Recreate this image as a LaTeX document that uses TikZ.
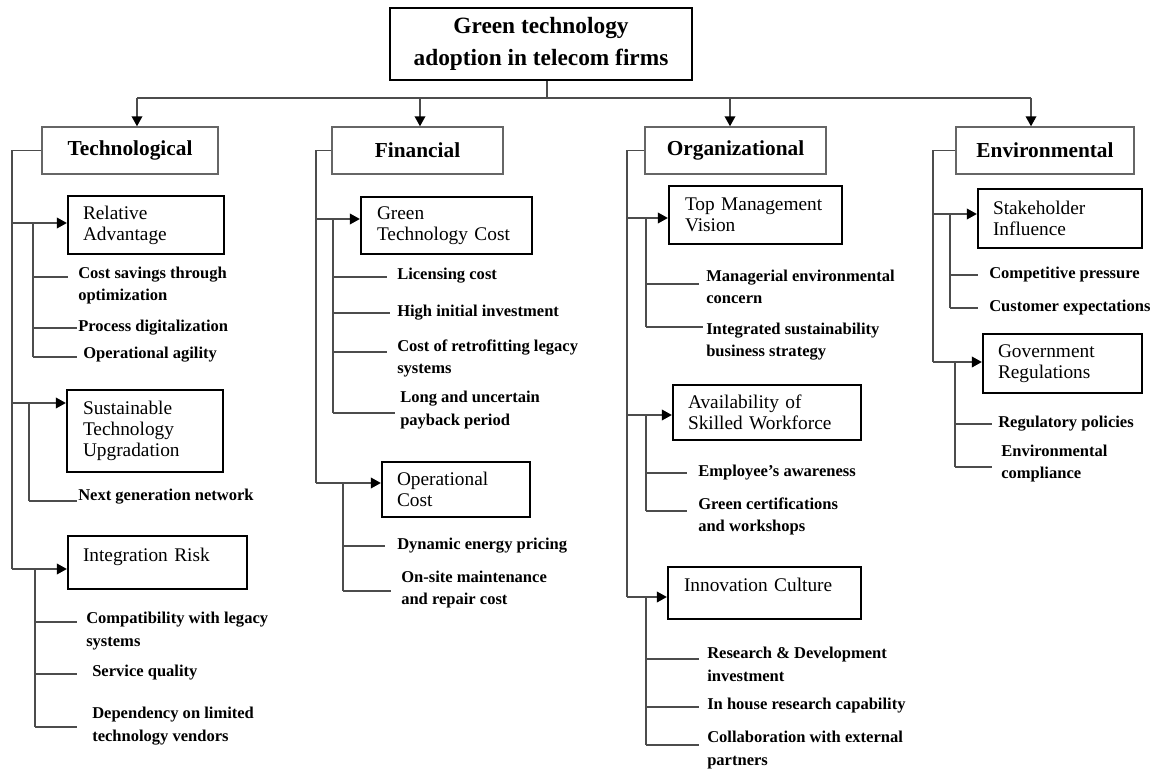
\documentclass[tikz,border=0pt]{standalone}
\usepackage{fontspec}
\setmainfont{Liberation Serif}
\usetikzlibrary{arrows.meta}
\tikzset{
  conn/.style={draw=black!70, line width=1.1pt},
  arr/.style={conn, -{Triangle[length=7.5pt,width=8pt,color=black]}},
  catbox/.style={draw=black!60, line width=1.1pt, font=\fontsize{16}{19}\selectfont\bfseries, inner sep=0pt},
  subbox/.style={draw=black, line width=1.7pt, font=\fontsize{14.5}{15.75}\selectfont, align=left, inner sep=0pt},
  itemtxt/.style={font=\fontsize{12.4}{17}\selectfont\bfseries, align=left, inner sep=0pt, anchor=west},
  titlebox/.style={draw=black, line width=1.8pt, font=\fontsize{17.5}{24}\selectfont\bfseries, align=center, inner sep=0pt}
}
\newcommand\subbx[8]{%
  \pgfmathsetmacro\mybw{(#4-#2)*0.75}\pgfmathsetmacro\mybh{(#5-#3)*0.75}\pgfmathsetmacro\mytw{(#2+#4-2*#6)*0.75}%
  \node[subbox,minimum width=\mybw pt,minimum height=\mybh pt,text width=\mytw pt,#7] (#1) at ({(#2+#4)/2},{(#3+#5)/2}) {#8};}
\newcommand\itm[7]{%
  \coordinate (#1-a) at (#2,#3); \coordinate (#1-b) at (#4,#3);
  \node[itemtxt] (#1) at (#5,#6) {#7};
  \draw[conn] (#1-a) -- (#1-b);}
\begin{document}
\begin{tikzpicture}[x=0.75pt,y=-0.75pt]
\fill[white] (0,0) rectangle (1155,771);
\useasboundingbox (0,0) rectangle (1155,771);

% root
\node[titlebox, minimum width=226.5pt, minimum height=54pt] (root) at (541,44) {Green technology\\adoption in telecom firms};
\coordinate (stem) at (547,98);
\coordinate (b1) at (137,98);
\coordinate (b2) at (420,98);
\coordinate (b3) at (730,98);
\coordinate (b4) at (1031,98);
\draw[conn] (root.south -| stem) -- (stem);
\draw[conn] (b1) -- (b4);

% categories
\node[catbox, minimum width=132pt, minimum height=35.25pt] (tech) at (130,150.5) {Technological};
\node[catbox, minimum width=128.25pt, minimum height=35.25pt] (fin) at (417.5,150.5) {Financial};
\node[catbox, minimum width=135.75pt, minimum height=35.25pt] (org) at (735.5,150.5) {Organizational};
\node[catbox, minimum width=133.5pt, minimum height=35.25pt] (env) at (1045,150.5) {Environmental};
\draw[arr] (b1) -- (b1 |- tech.north);
\draw[arr] (b2) -- (b2 |- fin.north);
\draw[arr] (b3) -- (b3 |- org.north);
\draw[arr] (b4) -- (b4 |- env.north);

% ---------- Technological
\subbx{ra}{68}{196}{224}{254}{83}{}{Relative\\Advantage}
\coordinate (ra-in) at (12,223); \coordinate (ra-s) at (33,223);
\draw[arr] (ra-in) -- (ra.west |- ra-in);
\itm{ra1}{33}{277}{68}{78}{285.5}{Cost savings through\\optimization}
\itm{ra2}{33}{328}{77}{78}{328}{Process digitalization}
\itm{ra3}{33}{357}{77}{83}{355}{Operational agility}
\draw[conn] (ra-s) -- (ra3-a);

\subbx{stu}{67}{390}{223}{472}{83}{}{Sustainable\\Technology\\Upgradation}
\coordinate (stu-in) at (12,403); \coordinate (stu-s) at (29,403);
\draw[arr] (stu-in) -- (stu.west |- stu-in);
\itm{stu1}{29}{501}{77}{78}{497}{Next generation network}
\draw[conn] (stu-s) -- (stu1-a);

\subbx{ir}{68}{536}{247}{589}{83}{text depth=12.3pt}{Integration Risk}
\coordinate (ir-in) at (12,569); \coordinate (ir-s) at (35,569);
\draw[arr] (ir-in) -- (ir.west |- ir-in);
\itm{ir1}{35}{622}{77}{86}{631}{Compatibility with legacy\\systems}
\itm{ir2}{35}{674}{77}{92}{673}{Service quality}
\itm{ir3}{35}{727}{77}{92}{726}{Dependency on limited\\technology vendors}
\draw[conn] (ir-s) -- (ir3-a);
\draw[conn] (tech.west) -| (ir-in);

% ---------- Financial
\subbx{gtc}{361}{197}{532}{254}{377}{}{Green\\Technology Cost}
\coordinate (gtc-in) at (316,219); \coordinate (gtc-s) at (333,219);
\draw[arr] (gtc-in) -- (gtc.west |- gtc-in);
\itm{gtc1}{333}{277}{387}{397}{276}{Licensing cost}
\itm{gtc2}{333}{313}{390}{397}{313}{High initial investment}
\itm{gtc3}{333}{352}{387}{397}{358.5}{Cost of retrofitting legacy\\systems}
\itm{gtc4}{333}{413}{395}{400}{410}{Long and uncertain\\payback period}
\draw[conn] (gtc-s) -- (gtc4-a);

\subbx{oc}{382}{462}{530}{517}{397}{}{Operational\\Cost}
\coordinate (oc-in) at (316,483); \coordinate (oc-s) at (343,483);
\draw[arr] (oc-in) -- (oc.west |- oc-in);
\itm{oc1}{343}{546}{385}{397}{546}{Dynamic energy pricing}
\itm{oc2}{343}{591}{391}{401}{589.5}{On-site maintenance\\and repair cost}
\draw[conn] (oc-s) -- (oc2-a);
\draw[conn] (fin.west) -| (oc-in);

% ---------- Organizational
\subbx{tmv}{669}{186}{842}{244}{685}{}{Top Management\\Vision}
\coordinate (tmv-in) at (627,218); \coordinate (tmv-s) at (646,218);
\draw[arr] (tmv-in) -- (tmv.west |- tmv-in);
\itm{tmv1}{646}{284}{699}{706}{287}{Managerial environmental\\concern}
\itm{tmv2}{646}{327}{703}{706}{341.5}{Integrated sustainability\\business strategy}
\draw[conn] (tmv-s) -- (tmv2-a);

\subbx{asw}{673}{385}{861}{440}{688}{}{Availability of\\Skilled Workforce}
\coordinate (asw-in) at (627,415); \coordinate (asw-s) at (646,415);
\draw[arr] (asw-in) -- (asw.west |- asw-in);
\itm{asw1}{646}{473}{687}{698}{473}{Employee’s awareness}
\itm{asw2}{646}{511}{687}{698}{516.5}{Green certifications\\and workshops}
\draw[conn] (asw-s) -- (asw2-a);

\subbx{ic}{668}{567}{861}{619}{684}{text depth=12.3pt}{Innovation Culture}
\coordinate (ic-in) at (627,597); \coordinate (ic-s) at (646,597);
\draw[arr] (ic-in) -- (ic.west |- ic-in);
\itm{ic1}{646}{659}{699}{707}{664}{Research \& Development\\investment}
\itm{ic2}{646}{707}{699}{707}{706}{In house research capability}
\itm{ic3}{646}{745}{699}{707}{750}{Collaboration with external\\partners}
\draw[conn] (ic-s) -- (ic3-a);
\draw[conn] (org.west) -| (ic-in);

% ---------- Environmental
\subbx{si}{978}{189}{1142}{248}{993}{}{Stakeholder\\Influence}
\coordinate (si-in) at (933,214); \coordinate (si-s) at (950,214);
\draw[arr] (si-in) -- (si.west |- si-in);
\itm{si1}{950}{275}{978}{989}{275}{Competitive pressure}
\itm{si2}{950}{308}{978}{989}{308}{Customer expectations}
\draw[conn] (si-s) -- (si2-a);

\subbx{gr}{983}{334}{1142}{393}{998}{}{Government\\Regulations}
\coordinate (gr-in) at (933,362); \coordinate (gr-s) at (955,362);
\draw[arr] (gr-in) -- (gr.west |- gr-in);
\itm{gr1}{955}{424}{992}{998}{424}{Regulatory policies}
\itm{gr2}{955}{467}{992}{1001}{463.5}{Environmental\\compliance}
\draw[conn] (gr-s) -- (gr2-a);
\draw[conn] (env.west) -| (gr-in);
\end{tikzpicture}
\end{document}
